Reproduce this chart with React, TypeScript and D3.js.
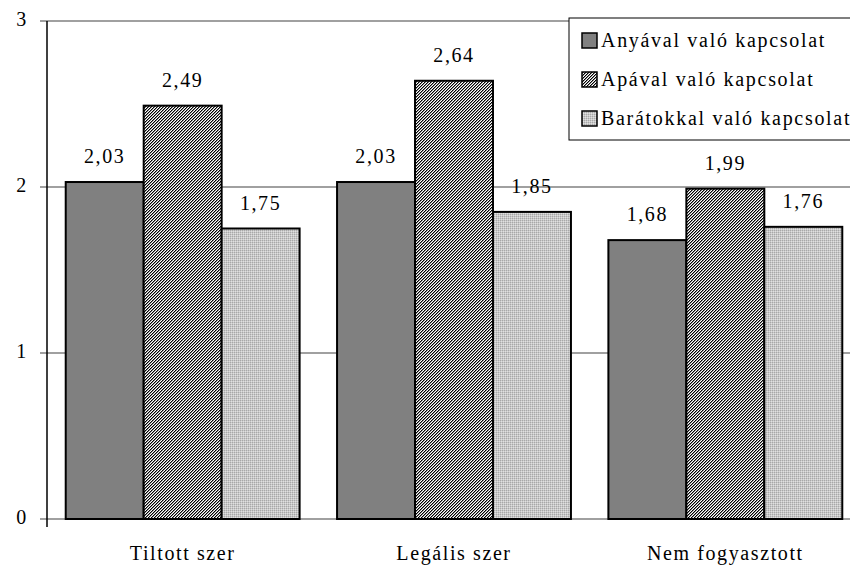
import React from "react";
import * as d3 from "d3";

const categories = ["Tiltott szer", "Legális szer", "Nem fogyasztott"];
const seriesNames = ["Anyával való kapcsolat", "Apával való kapcsolat", "Barátokkal való kapcsolat"];
const anya = [2.03, 2.03, 1.68];
const apa = [2.49, 2.64, 1.99];
const barat = [1.75, 1.85, 1.76];
const yTicks = [0, 1, 2, 3];

const W = 850, H = 567;
const fills = ["#808080", "url(#patApa)", "url(#patBarat)"];
const fmt = (v: number) => v.toFixed(2).replace(".", ",");
const txt: React.CSSProperties = { fontFamily: "Liberation Serif", fontSize: "20px", letterSpacing: "1.6px" };

export default function App() {
  const series = [anya, apa, barat];
  const x0 = d3.scaleBand<string>().domain(categories).range([47, 861]).paddingInner(0.138).paddingOuter(0.069);
  const x1 = d3.scaleBand<number>().domain([0, 1, 2]).range([0, x0.bandwidth()]);
  const y = d3.scaleLinear().domain([0, 3]).range([519, 21]);
  return (
    <div style={{ position: "fixed", left: 0, top: 0 }}>
      <svg width={W} height={H} style={{ display: "block", background: "#fff" }}>
        <defs>
          <pattern id="patApa" width="3" height="3" patternUnits="userSpaceOnUse">
            <rect width="3" height="3" fill="#ffffff" />
            <rect x="0" y="2" width="1" height="1" fill="#000" />
            <rect x="1" y="1" width="1" height="1" fill="#000" />
            <rect x="2" y="0" width="1" height="1" fill="#000" />
            <rect x="1" y="2" width="1" height="1" fill="#8c8c8c" />
            <rect x="2" y="1" width="1" height="1" fill="#8c8c8c" />
            <rect x="0" y="0" width="1" height="1" fill="#8c8c8c" />
          </pattern>
          <pattern id="patBarat" width="2" height="2" patternUnits="userSpaceOnUse">
            <rect width="2" height="2" fill="#c8c8c8" />
            <rect x="0" y="0" width="1" height="1" fill="#a8a8a8" />
            <rect x="1" y="1" width="1" height="1" fill="#e0e0e0" />
          </pattern>
        </defs>
        {yTicks.map(t => (
          <line key={t} x1={40} x2={W} y1={y(t)} y2={y(t)} stroke="#808080" strokeWidth={1.5} />
        ))}
        {categories.map((c, ci) =>
          series.map((s, si) => {
            const bx = (x0(c) as number) + (x1(si) as number);
            const top = y(s[ci]);
            return (
              <g key={c + si}>
                <rect x={bx} y={top} width={x1.bandwidth()} height={y(0) - top} fill={fills[si]} stroke="#000" strokeWidth={2} />
                <text x={bx + x1.bandwidth() / 2} y={top - 19} textAnchor="middle" style={txt} fill="#000">{fmt(s[ci])}</text>
              </g>
            );
          })
        )}
        <line x1={47} x2={47} y1={y(3)} y2={527} stroke="#000" strokeWidth={1.5} />
        {yTicks.map(t => (
          <text key={t} x={22} y={y(t) + 5} textAnchor="middle" style={txt} fill="#000">{t}</text>
        ))}
        {categories.map(c => (
          <text key={c} x={(x0(c) as number) + x0.bandwidth() / 2} y={560} textAnchor="middle" style={txt} fill="#000">{c}</text>
        ))}
        <rect x={569} y={18} width={300} height={122} fill="#fff" stroke="#000" strokeWidth={1} />
        {seriesNames.map((n, i) => (
          <g key={n} transform={`translate(0, ${40 + i * 39})`}>
            <rect x={582} y={-7} width={15} height={15} fill={fills[i]} stroke="#000" strokeWidth={1.5} />
            <text x={601} y={7} style={{ ...txt, letterSpacing: "1.7px" }} fill="#000">{n}</text>
          </g>
        ))}
      </svg>
    </div>
  );
}
